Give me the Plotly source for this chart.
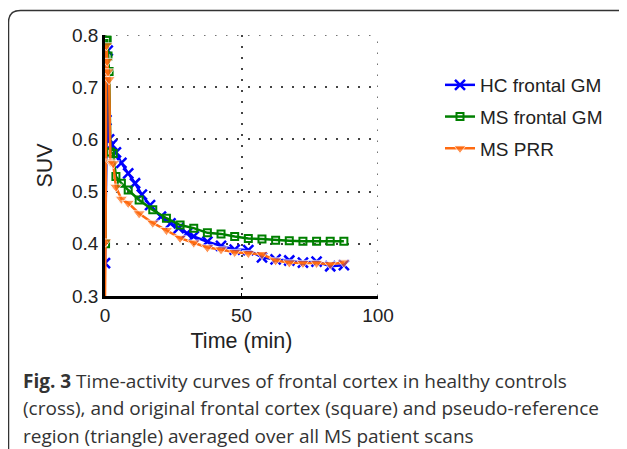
import plotly.graph_objects as go

# ---- data ----
ms_time = [0, 0.2, 0.5, 0.8, 1.1, 1.5, 2.0, 3.0, 4.0, 6.0, 8.5, 12.5, 17.5, 22.5, 27.5,
           32.5, 37.5, 42.5, 47.5, 52.5, 57.5, 62.5, 67.5, 72.5, 77.5, 82.5, 87.5]
ms_frontal_gm = [None, 0.400, 0.790, 0.790, 0.760, 0.730, 0.576, 0.573, 0.529, 0.516, 0.503,
                 0.484, 0.465, 0.449, 0.436, 0.430, 0.421, 0.419, 0.414, 0.410, 0.409,
                 0.407, 0.406, 0.405, 0.405, 0.405, 0.405]
ms_prr = [0.300, 0.404, 0.780, 0.750, 0.730, 0.715, 0.557, 0.554, 0.509, 0.486, 0.478,
          0.458, 0.440, 0.426, 0.411, 0.402, 0.393, 0.389, 0.384, 0.382, 0.380,
          0.368, 0.364, 0.363, 0.363, 0.361, 0.364]
hc_time = [0, 0.5, 1.0, 1.5, 2.5, 4, 6, 8.5, 11, 13.5, 16.5, 20.5, 24, 27, 30, 32.5,
           37.5, 42.5, 47.5, 52.5, 57.5, 62.5, 67.5, 72.5, 77.5, 82.5, 87.5]
hc_frontal_gm = [0.363, 0.637, 0.770, 0.600, 0.590, 0.575, 0.555, 0.535, 0.516, 0.494,
                 0.474, 0.452, 0.439, 0.430, 0.420, 0.414, 0.404, 0.396, 0.389, 0.388,
                 0.374, 0.370, 0.368, 0.364, 0.366, 0.357, 0.359]
x_ticks = [0, 50, 100]
y_ticks = [0.3, 0.4, 0.5, 0.6, 0.7, 0.8]
caption_lines = [
    "<b>Fig. 3</b> Time-activity curves of frontal cortex in healthy controls",
    "(cross), and original frontal cortex (square) and pseudo-reference",
    "region (triangle) averaged over all MS patient scans",
]

# page body has an 8px margin; positions below are in reference-picture pixels
OFF = 8
W, H = 627 - OFF, 449 - OFF
L, R, T, B = 105, 378, 35, 296  # plot area in reference pixels


def px(x):
    return (x - L) / (R - L)


def py(y):
    return (B - y) / (B - T)


BLUE, GREEN, ORANGE = "#0000ff", "#008000", "#ff6a10"
FAM = "Liberation Sans, Arial, sans-serif"
tick_font = dict(family=FAM, size=19, color="#222")
title_font = dict(family=FAM, size=21.5, color="#222")
GRID = dict(color="#444", width=1.5, dash="1.5px,9.5px")

fig = go.Figure()
fig.add_trace(go.Scatter(
    x=hc_time, y=hc_frontal_gm, name="HC frontal GM", mode="lines+markers",
    line=dict(color=BLUE, width=2.5), legendgroup="a",
    marker=dict(symbol="x-thin", size=10, line=dict(color=BLUE, width=2.5))))
fig.add_trace(go.Scatter(
    x=ms_time, y=ms_frontal_gm, name="MS frontal GM", mode="lines+markers",
    line=dict(color=GREEN, width=2.5), legendgroup="b",
    marker=dict(symbol="square-open", size=7, color=GREEN, line=dict(color=GREEN, width=2))))
fig.add_trace(go.Scatter(
    x=ms_time, y=ms_prr, name="MS PRR", mode="lines+markers",
    line=dict(color=ORANGE, width=2.5), legendgroup="c",
    marker=dict(symbol="triangle-down", size=[0] + [11] * (len(ms_prr) - 1), color=ORANGE)))

axis_common = dict(
    showline=True, linecolor="black", linewidth=2.5, mirror=False,
    showgrid=True, gridcolor=GRID["color"], griddash=GRID["dash"], gridwidth=GRID["width"],
    zeroline=False, ticks="inside", ticklen=3, tickcolor="black",
    tickfont=tick_font, layer="below traces",
)
fig.update_xaxes(range=[0, 100], tickvals=x_ticks, ticktext=[str(v) for v in x_ticks],
                 title=dict(text="Time (min)", font=title_font, standoff=9), **axis_common)
fig.update_yaxes(range=[0.3, 0.8], tickvals=y_ticks, ticktext=[f"{v:.1f}" for v in y_ticks],
                 title=dict(text="SUV", font=title_font, standoff=14), **axis_common)

shapes = [
    # rounded figure frame
    dict(type="path", xref="paper", yref="paper",
         path=(f"M {px(8.5)},{py(452)} L {px(8.5)},{py(22.5)} "
               f"Q {px(8.5)},{py(10.5)} {px(20.5)},{py(10.5)} L {px(630)},{py(10.5)}"),
         line=dict(color="#333", width=1.5)),
    # dotted grid at the far edges of the axes
    dict(type="line", xref="x", yref="paper", x0=100, x1=100, y0=0, y1=1,
         line=GRID, layer="below"),
    dict(type="line", xref="paper", yref="y", x0=0, x1=1, y0=0.8, y1=0.8,
         line=GRID, layer="below"),
]
annotations = []
for i, line in enumerate(caption_lines):
    annotations.append(dict(
        text=line, xref="paper", yref="paper", x=px(21), y=py(381 + 27.5 * i),
        xanchor="left", yanchor="middle", showarrow=False,
        font=dict(family="Open Sans, sans-serif", size=19, color="#333")))

fig.update_layout(
    width=W, height=H, margin=dict(l=L - OFF, r=627 - R, t=T - OFF, b=449 - B),
    paper_bgcolor="white", plot_bgcolor="white",
    shapes=shapes, annotations=annotations,
    legend=dict(x=px(440), y=py(66), xanchor="left", yanchor="top",
                font=dict(family=FAM, size=19, color="#222"),
                tracegroupgap=4, bgcolor="rgba(0,0,0,0)"),
    showlegend=True,
)

fig.write_html("out.html")
